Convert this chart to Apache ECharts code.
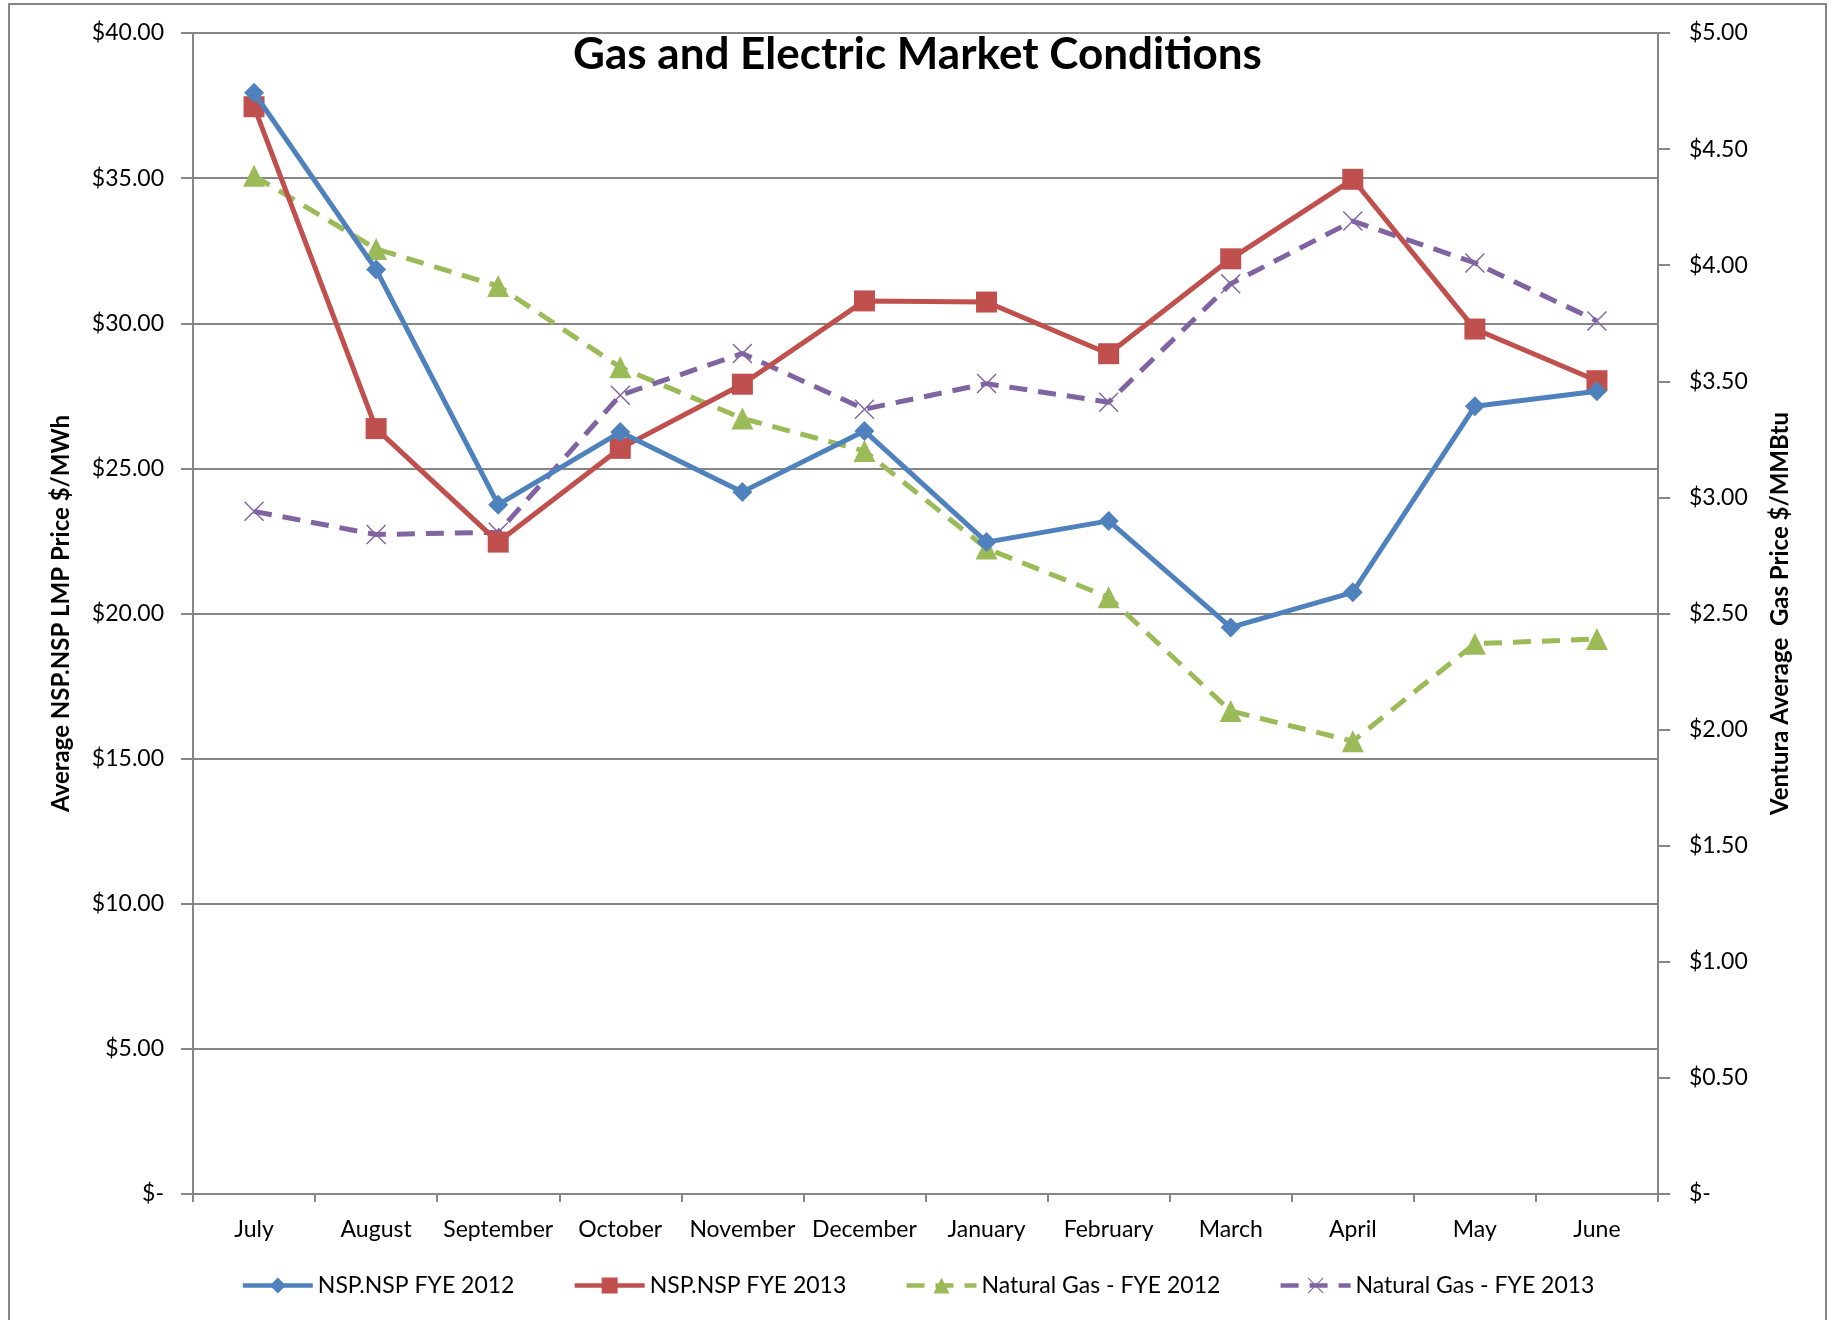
<!DOCTYPE html>
<html>
<head>
<meta charset="utf-8">
<title>Gas and Electric Market Conditions</title>
<script src="https://cdn.jsdelivr.net/npm/echarts@6/dist/echarts.min.js"></script>
<style>
	html, body { margin: 0; padding: 0; background: #fff; }
	#main { width: 1835px; height: 1320px; }
</style>
</head>
<body>
<div id="main"></div>
<script>
var months = ['July', 'August', 'September', 'October', 'November', 'December', 'January', 'February', 'March', 'April', 'May', 'June'];
// $/MWh, left axis
var nsp2012 = [37.94, 31.85, 23.75, 26.25, 24.19, 26.29, 22.46, 23.19, 19.52, 20.73, 27.14, 27.66];
var nsp2013 = [37.46, 26.37, 22.46, 25.69, 27.90, 30.77, 30.73, 28.95, 32.22, 34.96, 29.80, 28.02];
// $/MMBtu, right axis
var gas2012 = [4.385, 4.07, 3.91, 3.56, 3.34, 3.20, 2.78, 2.57, 2.08, 1.95, 2.37, 2.39];
var gas2013 = [2.94, 2.84, 2.85, 3.44, 3.62, 3.38, 3.49, 3.41, 3.92, 4.19, 4.01, 3.76];
var seriesNames = ['NSP.NSP FYE 2012', 'NSP.NSP FYE 2013', 'Natural Gas - FYE 2012', 'Natural Gas - FYE 2013'];

var font = 'Lato';
var gray = '#868686';
var crossSymbol = 'path://M0,1 L1,0 L10,9 L19,0 L20,1 L11,10 L20,19 L19,20 L10,11 L1,20 L0,19 L9,10 Z';

function money(v) {
	return v === 0 ? '$-' : '$' + v.toFixed(2);
}

var myChart = echarts.init(document.getElementById('main'));
var option = {
	backgroundColor: '#fff',
	animation: false,
	textStyle: { fontFamily: font, color: '#000' },
	title: {
		text: 'Gas and Electric Market Conditions',
		left: 'center',
		top: 28,
		textStyle: { fontFamily: font, fontSize: 44, fontWeight: 'bold', color: '#000' }
	},
	graphic: [{
		type: 'rect',
		silent: true,
		shape: { x: 9, y: 4, width: 1817, height: 1340 },
		style: { fill: null, stroke: gray, lineWidth: 2 }
	}],
	grid: { left: 193, right: 177, top: 33, bottom: 126 },
	legend: {
		bottom: 18,
		left: 'center',
		itemWidth: 70,
		itemHeight: 20,
		itemGap: 58,
		lineStyle: { width: 4.5 },
		textStyle: { fontFamily: font, fontSize: 23, color: '#000' },
		data: seriesNames
	},
	xAxis: {
		type: 'category',
		data: months,
		boundaryGap: true,
		axisLine: { lineStyle: { color: gray, width: 2 } },
		axisTick: { show: true, length: 8, lineStyle: { color: gray, width: 2 } },
		axisLabel: { interval: 0, margin: 24, fontSize: 23, color: '#000', fontFamily: font }
	},
	yAxis: [{
		type: 'value',
		min: 0,
		max: 40,
		interval: 5,
		name: 'Average NSP.NSP LMP Price $/MWh',
		nameLocation: 'middle',
		nameGap: 120,
		nameTextStyle: { fontFamily: font, fontSize: 24, fontWeight: 'bold', color: '#000' },
		axisLine: { show: true, lineStyle: { color: gray, width: 2 } },
		axisTick: { show: true, length: 12, lineStyle: { color: gray, width: 2 } },
		axisLabel: { margin: 29, fontSize: 23, color: '#000', fontFamily: font, formatter: money },
		splitLine: { show: true, lineStyle: { color: gray, width: 2 } }
	}, {
		type: 'value',
		position: 'right',
		min: 0,
		max: 5,
		interval: 0.5,
		name: 'Ventura Average  Gas Price $/MMBtu',
		nameLocation: 'middle',
		nameGap: 110,
		nameTextStyle: { fontFamily: font, fontSize: 24, fontWeight: 'bold', color: '#000' },
		axisLine: { show: true, lineStyle: { color: gray, width: 2 } },
		axisTick: { show: true, length: 12, lineStyle: { color: gray, width: 2 } },
		axisLabel: { margin: 31, fontSize: 23, color: '#000', fontFamily: font, formatter: money },
		splitLine: { show: false }
	}],
	series: [{
		name: seriesNames[0],
		type: 'line',
		yAxisIndex: 0,
		data: nsp2012,
		symbol: 'diamond',
		symbolSize: 20,
		color: '#4F81BD',
		lineStyle: { width: 5, color: '#4F81BD' },
		z: 4
	}, {
		name: seriesNames[1],
		type: 'line',
		yAxisIndex: 0,
		data: nsp2013,
		symbol: 'rect',
		symbolSize: 21,
		color: '#C0504D',
		lineStyle: { width: 5, color: '#C0504D' },
		z: 3
	}, {
		name: seriesNames[2],
		type: 'line',
		yAxisIndex: 1,
		data: gas2012,
		symbol: 'triangle',
		symbolSize: 22,
		color: '#9BBB59',
		lineStyle: { width: 5, color: '#9BBB59', type: [18, 11] },
		z: 2
	}, {
		name: seriesNames[3],
		type: 'line',
		yAxisIndex: 1,
		data: gas2013,
		symbol: crossSymbol,
		symbolSize: 20,
		color: '#8064A2',
		lineStyle: { width: 5, color: '#8064A2', type: [18, 11] },
		z: 2
	}]
};
myChart.setOption(option);
</script>
</body>
</html>
